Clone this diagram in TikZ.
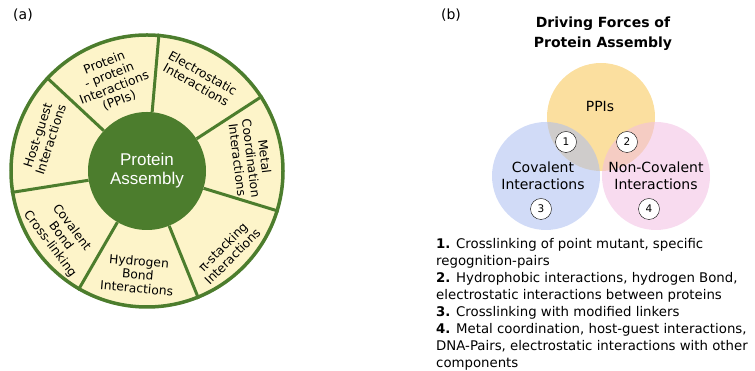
\documentclass[tikz,border=0pt]{standalone}
\usepackage{fontspec}
\setmainfont{DejaVu Sans}
\newfontfamily\hubfont{Liberation Sans}
\usetikzlibrary{positioning}
\definecolor{leafgreen}{RGB}{76,125,45}
\definecolor{cream}{RGB}{253,244,201}
\definecolor{ppiyellow}{RGB}{248,196,80}
\definecolor{covblue}{RGB}{172,190,240}
\definecolor{ncovpink}{RGB}{242,190,226}
\tikzset{
    ringlabel/.style = {align=center, inner sep=0pt,
                 font=\fontsize{12.3}{13.6}\selectfont},
    venn/.style = {circle, minimum size=108pt, inner sep=0pt, fill opacity=0.55},
    vennlabel/.style = {align=center, font=\fontsize{14}{17}\selectfont},
    numbadge/.style = {circle, draw, fill=white, minimum size=21pt, inner sep=0pt,
                 font=\fontsize{10.5}{12}\selectfont},
    paneltag/.style = {font=\fontsize{14}{16}\selectfont},
}

\begin{document}
\begin{tikzpicture}[x=1pt,y=1pt]
\useasboundingbox (0,0) rectangle (755,371);

% panel (a): the wheel
\node (taga) [paneltag] at (23,356) {(a)};
\node (rim) [circle, draw=leafgreen, line width=3.5pt, fill=cream,
             minimum size=272pt] at (147,200) {};
\node (hub) [circle, fill=leafgreen, minimum size=118pt, text=white,
             align=center, font=\hubfont\fontsize{17}{19}\selectfont]
             at (rim.center) {Protein\\Assembly};
\foreach \k [evaluate=\k as \ang using 85.3-\k*51.43] in {0,...,6}
  \draw[leafgreen, line width=3pt] (hub.\ang) -- (rim.\ang);

\foreach \i/\ang/\rot/\rad/\txt in {
  1/111.5/21.5/96/{Protein\\- protein\\Interactions\\(PPIs)},
  2/60.3/-29.7/106/{Electrostatic\\Interactions},
  3/7/-83/105/{Metal\\Coordination\\Interactions},
  4/-45/45/114/{π-stacking\\Interactions},
  5/-95/-5/104/{Hydrogen\\Bond\\Interactions},
  6/-143/-53/108/{Covalent\\Bond\\Cross-linking},
  7/162/72/108/{Host-guest\\Interactions}}
  \node (seg\i) [ringlabel, rotate=\rot] at ([shift={(\ang:\rad)}]rim.center) {\txt};

% panel (b): the Venn diagram
\node (tagb) [paneltag] at (451,356) {(b)};
\node (title) [align=center, font=\bfseries\fontsize{14}{20}\selectfont]
      at (603,337) {Driving Forces of\\Protein Assembly};

\node (ppi)  [venn, fill=ppiyellow] at (601,254) {};
\node (cov)  [venn, fill=covblue]   at (546,195) {};
\node (ncov) [venn, fill=ncovpink]  at (656,195) {};

\node (ppilbl)  [vennlabel] at (600,264) {PPIs};
\node (covlbl)  [vennlabel] at (543,195) {Covalent\\Interactions};
\node (ncovlbl) [vennlabel] at (656,195) {Non-Covalent\\Interactions};

\node (one)   [numbadge] at (566,229) {1};
\node (two)   [numbadge] at (627,229) {2};
\node (three) [numbadge] at (541,162) {3};
\node (four)  [numbadge] at (649,162) {4};

\node (notes) [anchor=north west, inner sep=0pt, align=left,
               font=\fontsize{13.3}{17}\selectfont] at (436,133)
 {\textbf{1.} Crosslinking of point mutant, specific\\
  regognition-pairs\\
  \textbf{2.} Hydrophobic interactions, hydrogen Bond,\\
  electrostatic interactions between proteins\\
  \textbf{3.} Crosslinking with modified linkers\\
  \textbf{4.} Metal coordination, host-guest interactions,\\
  DNA-Pairs, electrostatic interactions with other\\
  components};
\end{tikzpicture}
\end{document}
